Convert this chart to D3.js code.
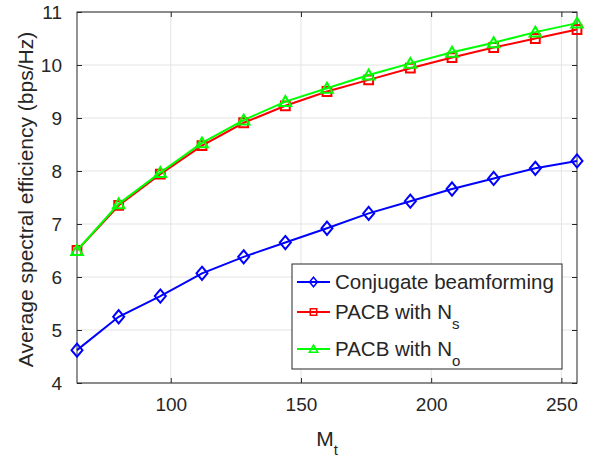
<!DOCTYPE html>
<meta charset="utf-8">
<style>
body { margin: 0; background: #fff; }
text { font-family: "Liberation Sans", Arial, sans-serif; fill: #262626; }
</style>
<body>
<script src="https://d3js.org/d3.v7.min.js"></script>
<script>
var width = 594,
    height = 458;

var antennas = [64, 80, 96, 112, 128, 144, 160, 176, 192, 208, 224, 240, 256];
var conjugate = [4.62, 5.25, 5.64, 6.07, 6.38, 6.65, 6.92, 7.2, 7.43, 7.66, 7.86, 8.05, 8.19];
var pacbNs = [6.5, 7.35, 7.94, 8.48, 8.91, 9.23, 9.5, 9.72, 9.94, 10.14, 10.33, 10.5, 10.67];
var pacbNo = [6.5, 7.38, 7.97, 8.53, 8.96, 9.31, 9.56, 9.81, 10.03, 10.24, 10.42, 10.62, 10.79];
var xTicks = [100, 150, 200, 250];
var yTicks = [4, 5, 6, 7, 8, 9, 10, 11];

var series = [
  {name: "Conjugate beamforming", sub: "", values: conjugate, color: "#0000ff", marker: "diamond"},
  {name: "PACB with N", sub: "s", values: pacbNs, color: "#ff0000", marker: "square"},
  {name: "PACB with N", sub: "o", values: pacbNo, color: "#00ff00", marker: "triangle"}
];

// plot box (window.top is read-only, so avoid "top")
var padL = 77, padR = 577, padT = 12, padB = 383;

var x = d3.scaleLinear().domain([64, 256]).range([padL, padR]);
var y = d3.scaleLinear().domain([4, 11]).range([padB, padT]);

var svg = d3.select("body").append("svg")
    .attr("width", width)
    .attr("height", height);

// grid
svg.append("g").selectAll("line").data(xTicks).enter().append("line")
    .attr("x1", d => x(d)).attr("x2", d => x(d))
    .attr("y1", padT).attr("y2", padB)
    .attr("stroke", "#e3e3e3").attr("stroke-width", 1);
svg.append("g").selectAll("line").data(yTicks).enter().append("line")
    .attr("x1", padL).attr("x2", padR)
    .attr("y1", d => y(d)).attr("y2", d => y(d))
    .attr("stroke", "#e3e3e3").attr("stroke-width", 1);

// axes (ticks inside, on all four sides)
var axisColor = "#262626";
function styleAxis(g) {
  g.select(".domain").remove();
  g.selectAll(".tick line").attr("stroke", axisColor);
  g.selectAll(".tick text").attr("font-size", 19).attr("fill", axisColor)
      .style("font-family", '"Liberation Sans", Arial, sans-serif');
}
svg.append("g").attr("transform", "translate(0," + padB + ")")
    .call(d3.axisBottom(x).tickValues(xTicks).tickSize(-5).tickPadding(15))
    .call(styleAxis);
svg.append("g").attr("transform", "translate(0," + padT + ")")
    .call(d3.axisTop(x).tickValues(xTicks).tickSize(-5).tickFormat(""))
    .call(styleAxis);
svg.append("g").attr("transform", "translate(" + padL + ",0)")
    .call(d3.axisLeft(y).tickValues(yTicks).tickSize(-5).tickPadding(15).tickFormat(d3.format("d")))
    .call(styleAxis);
svg.append("g").attr("transform", "translate(" + padR + ",0)")
    .call(d3.axisRight(y).tickValues(yTicks).tickSize(-5).tickFormat(""))
    .call(styleAxis);

svg.append("rect")
    .attr("x", padL).attr("y", padT)
    .attr("width", padR - padL).attr("height", padB - padT)
    .attr("fill", "none").attr("stroke", axisColor).attr("stroke-width", 1);

// marker shapes
function markerPath(type, s) {
  if (type === "diamond") return "M0," + (-s * 1.2) + "L" + s + ",0L0," + (s * 1.2) + "L" + (-s) + ",0Z";
  if (type === "square") return "M" + (-s * 0.8) + "," + (-s * 0.8) + "h" + (s * 1.6) + "v" + (s * 1.6) + "h" + (-s * 1.6) + "Z";
  return "M0," + (-s) + "L" + (s * 1.05) + "," + (s * 0.8) + "L" + (-s * 1.05) + "," + (s * 0.8) + "Z";
}

var line = d3.line()
    .x((d, i) => x(antennas[i]))
    .y(d => y(d));

series.forEach(function(s) {
  var g = svg.append("g");
  g.append("path")
      .attr("d", line(s.values))
      .attr("fill", "none")
      .attr("stroke", s.color)
      .attr("stroke-width", 2);
  g.selectAll("path.m").data(s.values).enter().append("path")
      .attr("class", "m")
      .attr("d", markerPath(s.marker, 5.5))
      .attr("transform", (d, i) => "translate(" + x(antennas[i]) + "," + y(d) + ")")
      .attr("fill", "none")
      .attr("stroke", s.color)
      .attr("stroke-width", 2);
});

// legend
var lg = svg.append("g");
lg.append("rect")
    .attr("x", 292).attr("y", 264)
    .attr("width", 270).attr("height", 105)
    .attr("fill", "#fff").attr("stroke", axisColor).attr("stroke-width", 1);

var rowY = [282, 312, 349];
series.forEach(function(s, i) {
  var yy = rowY[i];
  lg.append("line")
      .attr("x1", 297).attr("x2", 330)
      .attr("y1", yy).attr("y2", yy)
      .attr("stroke", s.color).attr("stroke-width", 2);
  lg.append("path")
      .attr("d", markerPath(s.marker, 4))
      .attr("transform", "translate(313.5," + yy + ")")
      .attr("fill", "none").attr("stroke", s.color).attr("stroke-width", 1.5);
  var t = lg.append("text")
      .attr("x", 335).attr("y", yy + 6.5)
      .attr("font-size", 20.5)
      .attr("fill", "#000");
  t.append("tspan").text(s.name);
  if (s.sub) {
    t.append("tspan").attr("dy", 10).attr("font-size", 15).text(s.sub);
  }
});

// axis labels
var xl = svg.append("text")
    .attr("x", (padL + padR) / 2).attr("y", 446)
    .attr("text-anchor", "middle")
    .attr("font-size", 21);
xl.append("tspan").text("M");
xl.append("tspan").attr("dy", 9).attr("font-size", 15).text("t");

svg.append("text")
    .attr("transform", "translate(33," + ((padT + padB) / 2 + 2) + ") rotate(-90)")
    .attr("text-anchor", "middle")
    .attr("font-size", 21)
    .text("Average spectral efficiency (bps/Hz)");
</script>
</body>
</html>
